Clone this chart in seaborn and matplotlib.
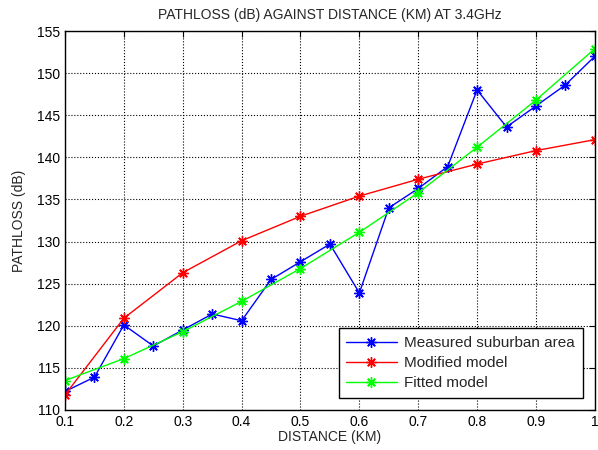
import numpy as np
import pandas as pd
import matplotlib
matplotlib.use("Agg")
import matplotlib.pyplot as plt
import seaborn as sns

# distances (km)
dist_measured = [0.1, 0.15, 0.2, 0.25, 0.3, 0.35, 0.4, 0.45, 0.5, 0.55,
                 0.6, 0.65, 0.7, 0.75, 0.8, 0.85, 0.9, 0.95, 1.0]
dist_model = [0.1, 0.2, 0.3, 0.4, 0.5, 0.6, 0.7, 0.8, 0.9, 1.0]

# pathloss values (dB)
measured = [112.2, 113.9, 120.1, 117.6, 119.5, 121.4, 120.6, 125.5, 127.6, 129.7,
            123.9, 134.0, 136.3, 138.9, 148.0, 143.6, 146.1, 148.6, 152.0]
modified = [111.8, 120.9, 126.3, 130.1, 133.0, 135.4, 137.4, 139.2, 140.8, 142.1]
fitted = [113.5, 116.1, 119.3, 122.9, 126.8, 131.1, 135.8, 141.2, 146.8, 152.9]

xticks = [0.1, 0.2, 0.3, 0.4, 0.5, 0.6, 0.7, 0.8, 0.9, 1.0]
xtick_labels = ["0.1", "0.2", "0.3", "0.4", "0.5", "0.6", "0.7", "0.8", "0.9", "1"]
yticks = [110, 115, 120, 125, 130, 135, 140, 145, 150, 155]

sns.set_style("white")
plt.rcParams['font.family'] = ['Liberation Sans', 'DejaVu Sans']
plt.rcParams['xtick.direction'] = 'in'
plt.rcParams['ytick.direction'] = 'in'

fig = plt.figure(figsize=(5.98, 4.5), dpi=100)
ax = fig.add_axes([0.1087, 0.0889, 0.8860, 0.8422])

star = (8, 2, 0)
for xs, ys, col, lab in [(dist_measured, measured, 'blue', 'Measured suburban area'),
                         (dist_model, modified, 'red', 'Modified model'),
                         (dist_model, fitted, '#00ff00', 'Fitted model')]:
    sns.lineplot(x=xs, y=ys, ax=ax, color=col, marker=star, markersize=7.5,
                 markeredgecolor=col, markerfacecolor=col, markeredgewidth=1.0,
                 linewidth=1.0, label=lab)

ax.set_xlim(0.1, 1.0)
ax.set_ylim(110, 155)
ax.set_xticks(xticks)
ax.set_xticklabels(xtick_labels)
ax.set_yticks(yticks)
ax.tick_params(labelsize=10, length=4, width=0.8, colors='black',
               top=True, right=True)
ax.grid(True, linestyle=':', color='black', linewidth=0.8)
for s in ax.spines.values():
    s.set_color('black')
    s.set_linewidth(1.0)

ax.set_title('PATHLOSS (dB) AGAINST DISTANCE (KM) AT 3.4GHz', fontsize=10, pad=9)
ax.set_xlabel('DISTANCE (KM)', fontsize=10, labelpad=1)
ax.set_ylabel('PATHLOSS (dB)', fontsize=10, labelpad=8)

leg = ax.legend(loc='lower right', fontsize=11, frameon=True, fancybox=False,
                edgecolor='black', framealpha=1, borderaxespad=0.8,
                handlelength=3.3, labelspacing=0.4, borderpad=0.5,
                handletextpad=0.5)
leg.get_frame().set_linewidth(1.0)

fig.savefig('out.png', dpi=100)
